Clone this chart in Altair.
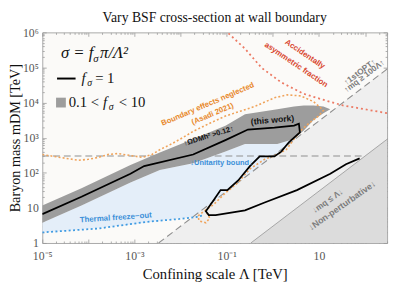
import altair as alt
import pandas as pd

# ---------------- texts ----------------
title_text = "Vary BSF cross-section at wall boundary"
x_title = "Confining scale Λ [TeV]"
y_title = "Baryon mass mDM [TeV]"

# ---------------- axes ----------------
x_domain = [1e-5, 300]
y_domain = [1, 1e6]
x_label_values = [1e-5, 1e-3, 1e-1, 10]
y_label_values = [1, 10, 100, 1e3, 1e4, 1e5, 1e6]
x_tick_values = [k * 10.0 ** e for e in range(-5, 3) for k in range(1, 10) if k * 10.0 ** e <= 300]
y_tick_values = [k * 10.0 ** e for e in range(0, 6) for k in range(1, 10)] + [1e6]

# ---------------- data ----------------
# f_sigma = 1 contour (black)
f1_lam = [1e-5, 7.08e-5, 8.17e-4, 1.62e-3, 1.87e-2, 9.37e-2, 0.288, 1.08, 2.88, 3.67, 3.86,
          2.25, 1.52, 1.08, 0.519, 0.318, 0.177, 0.103, 7.35e-2, 4.97e-2, 3.52e-2, 4.08e-2,
          5.75e-2, 0.249, 0.664, 3.33, 17.6, 38.5, 76.2]
f1_m = [6.63, 20.7, 94.0, 155, 332, 855, 1710, 1940, 2200, 2500, 1420,
        753, 401, 292, 292, 155, 60.4, 32.1, 32.1, 15.1, 8.02, 6.23,
        6.23, 8.54, 14.2, 32.1, 94.0, 176, 258]

# 0.1 < f_sigma < 10 band (gray)
band_lam = [1e-5, 7.08e-5, 8.17e-4, 3.54e-3, 1.87e-2, 9.37e-2, 0.249, 1.25, 2.88, 4.69, 7.65, 12.5, 17.6]
band_hi = [11.7, 36.5, 166, 376, 910, 2200, 4690, 6430, 7770, 8280, 8280, 7770, 6430]
band_lo = [3.76, 11.7, 53.2, 121, 188, 401, 664, 664, 910, 1600, 3210, 5000, 6430]

# light-blue allowed region
blue_lam = [1e-5, 7.08e-5, 8.17e-4, 3.54e-3, 1.87e-2, 9.37e-2, 0.249, 1.25, 2.88]
blue_hi = [3.76, 11.7, 53.2, 121, 188, 401, 664, 664, 910]
blue_lo = [2.0, 2.42, 3.32, 4.27, 5.49, 7.07, 8.02, 8.02, 8.02]

# thermal freeze-out (blue dotted)
freeze_lam = [1e-5, 1.63e-4, 1.87e-3, 9.42e-3, 2.16e-2, 3.20e-2]
freeze_m = [2.0, 2.58, 4.01, 4.84, 5.49, 6.23]

# accidentally asymmetric fraction (red dotted)
asym_lam = [0.109, 0.249, 0.573, 1.52, 4.69, 14.5, 33.2, 76.2, 300]
asym_m = [9.4e5, 3.42e5, 9.7e4, 3.76e4, 1.77e4, 1.13e4, 8280, 6850, 5000]

# boundary effects neglected, Asadi 2021 (orange dotted)
asadi_lam = [1e-5, 1.80e-5, 3.24e-5, 6.11e-5, 9.96e-5, 1.63e-4, 2.65e-4, 4.32e-4, 8.17e-4, 1.47e-3,
             2.39e-3, 3.54e-3, 6.37e-3, 1.15e-2, 1.87e-2, 4.50e-2, 9.37e-2, 0.195, 0.407, 1.08,
             2.04, 4.05, 7.65, 12.5, 9.77, 6.61, 4.26, 2.88, 1.95, 1.25, 0.664, 0.318, 0.177,
             9.37e-2, 5.21e-2, 3.20e-2, 2.38e-2, 2.51e-2, 3.52e-2, 4.29e-2, 3.70e-2]
asadi_m = [332, 292, 258, 227, 242, 274, 332, 353, 311, 274,
           332, 455, 664, 1030, 1510, 2660, 4130, 5670, 7770, 13700,
           16600, 15500, 10600, 6040, 4130, 2830, 1710, 910, 455, 332, 242, 129, 53.2,
           26.6, 12.5, 8.02, 5.85, 4.27, 3.76, 5.16, 7.07]

# unitarity bound (gray dashed, horizontal)
unit_lam = [1e-5, 100]
unit_m = [300, 300]

# m_q = 100 Lambda  (m_DM = 300 Lambda) boundary
opt_lam = [3.33e-3, 300]
opt_m = [1, 9e4]

# m_q = Lambda (m_DM = 3 Lambda) boundary
np_lam = [0.333, 300]
np_m = [1, 900]

# region labels: text, Lambda, m, angle, colour, size
lab_text = ["Accidentally", "asymmetric fraction", "Boundary effects neglected", "(Asadi 2021)",
            "↓Unitarity bound↓", "Thermal freeze−out", "↑1stOPT↑", "↑mq ≥ 100Λ↑",
            "↓mq ≤ Λ↓", "↓Non-perturbative↓", "(this work)", "↑ΩDMh² >0.12↑"]
lab_lam = [4.92, 3.17, 0.0389, 0.0497, 0.0771, 3.92e-4, 76.2, 97.3, 15.2, 31.6, 0.98, 0.0408]
lab_m = [2.34e5, 1.17e5, 8810, 4690, 188, 5.16, 7.53e4, 5.49e4, 16.0, 11.7, 3210, 1100]
lab_angle = [34, 34, 337, 337, 0, 356, 323, 323, 325, 325, 355, 343]
lab_color = ["#d9472f", "#d9472f", "#e8892c", "#e8892c", "#3b8fd8", "#3b8fd8",
             "#7c7c7c", "#7c7c7c", "#7c7c7c", "#7c7c7c", "#111111", "#111111"]
lab_size = [8, 8, 7.8, 7.8, 7.6, 8, 8.5, 8.3, 8.5, 9, 8.8, 7.5]

# legend (in-plot) pieces
leg_it_text = ["σ = f", "σ", "π/Λ²", "f", "σ", "f", "σ"]
leg_it_lam = [2.54e-5, 1.27e-4, 1.79e-4, 7.08e-5, 9.48e-5, 2.07e-4, 2.78e-4]
leg_it_m = [1.82e5, 1.42e5, 1.82e5, 3.53e4, 2.92e4, 7290, 6040]
leg_it_size = [17, 11, 17, 15, 10, 15, 10]
leg_rm_text = ["= 1", "0.1 <", "< 10"]
leg_rm_lam = [1.40e-4, 3.74e-5, 4.54e-4]
leg_rm_m = [3.53e4, 7290, 7290]
leg_line_lam = [2.09e-5, 5.27e-5]
leg_line_m = [4.84e4, 4.84e4]
leg_sq_lam = [2.54e-5]
leg_sq_m = [1.0e4]

# ---------------- helpers ----------------
W, H = 352, 215
xs = alt.Scale(type="log", domain=x_domain)
ys = alt.Scale(type="log", domain=y_domain)


def path_df(lams, ms):
    return pd.DataFrame({"lam": lams, "m": ms, "i": list(range(len(lams)))})


MAJOR = "abs(log(datum.value)/LN10 - round(log(datum.value)/LN10)) < 0.01"
tick_size = {"condition": {"test": MAJOR, "value": 4}, "value": 2}


def tick_axis(orient, offset, values):
    return alt.Axis(orient=orient, offset=offset, values=values, labels=False, domain=False,
                    grid=False, ticks=True, tickSize=tick_size, tickColor="#999999",
                    tickWidth=0.8, title=None)


x_label_axis = alt.Axis(
    orient="bottom", values=x_label_values,
    labelExpr="datum.value < 2e-5 ? '10⁻⁵' : datum.value < 2e-3 ? '10⁻³' : datum.value < 0.2 ? '10⁻¹' : '10'",
    ticks=False, domain=False, grid=False, labelFlush=False,
    labelFont="Liberation Serif", labelFontSize=12, labelColor="#555555", labelPadding=8,
    title=x_title, titleFont="Liberation Serif", titleFontSize=15, titleFontWeight="normal",
    titleColor="#111111", titlePadding=5)
y_label_axis = alt.Axis(
    orient="left", values=y_label_values,
    labelExpr="datum.value < 2 ? '1' : datum.value < 20 ? '10' : datum.value < 200 ? '10²' : datum.value < 2e3 ? '10³' : datum.value < 2e4 ? '10⁴' : datum.value < 2e5 ? '10⁵' : '10⁶'",
    ticks=False, domain=False, grid=False, labelFlush=False,
    labelFont="Liberation Serif", labelFontSize=12, labelColor="#555555", labelPadding=4,
    title=y_title, titleFont="Liberation Serif", titleFontSize=14.5, titleFontWeight="normal",
    titleColor="#111111", titlePadding=0)


def X(axis=None):
    return alt.X("lam:Q", scale=xs, axis=axis)


def Y(axis=None):
    return alt.Y("m:Q", scale=ys, axis=axis)


# ---------------- layers ----------------
blue = alt.Chart(pd.DataFrame({"lam": blue_lam, "m": blue_hi, "m2": blue_lo})).mark_area(
    color="#e4eef9", clip=True).encode(x=X(x_label_axis), y=Y(y_label_axis), y2="m2:Q")

opt_area = alt.Chart(pd.DataFrame({"lam": opt_lam, "m": opt_m, "m2": [1, 1]})).mark_area(
    color="#efefef", clip=True).encode(
    x=X(tick_axis("top", -H, x_tick_values)), y=Y(tick_axis("right", -W, y_tick_values)), y2="m2:Q")

np_area = alt.Chart(pd.DataFrame({"lam": np_lam, "m": np_m, "m2": [1, 1]})).mark_area(
    color="#dcdcdc", clip=True).encode(
    x=X(tick_axis("bottom", -H, x_tick_values)), y=Y(tick_axis("left", -W, y_tick_values)), y2="m2:Q")

unit_line = alt.Chart(path_df(unit_lam, unit_m)).mark_line(
    color="#8f8f8f", strokeWidth=1.1, strokeDash=[7, 4], clip=True).encode(x=X(), y=Y(), order="i:Q")
opt_line = alt.Chart(path_df(opt_lam, opt_m)).mark_line(
    color="#8f8f8f", strokeWidth=1.1, strokeDash=[7, 4], clip=True).encode(x=X(), y=Y(), order="i:Q")
np_line = alt.Chart(path_df(np_lam, np_m)).mark_line(
    color="#a5a5a5", strokeWidth=1, clip=True).encode(x=X(), y=Y(), order="i:Q")

band = alt.Chart(pd.DataFrame({"lam": band_lam, "m": band_hi, "m2": band_lo})).mark_area(
    color="#9d9d9d", clip=True).encode(x=X(), y=Y(), y2="m2:Q")

asadi = alt.Chart(path_df(asadi_lam, asadi_m)).mark_line(
    color="#f0a35a", strokeWidth=1.6, strokeDash=[2, 2.2], clip=True).encode(x=X(), y=Y(), order="i:Q")
asym = alt.Chart(path_df(asym_lam, asym_m)).mark_line(
    color="#ec7a64", strokeWidth=1.8, strokeDash=[2, 3], clip=True).encode(x=X(), y=Y(), order="i:Q")
freeze = alt.Chart(path_df(freeze_lam, freeze_m)).mark_line(
    color="#3f9be2", strokeWidth=1.8, strokeDash=[2, 2.5], clip=True).encode(x=X(), y=Y(), order="i:Q")
f1 = alt.Chart(path_df(f1_lam, f1_m)).mark_line(
    color="black", strokeWidth=1.8, clip=True).encode(x=X(), y=Y(), order="i:Q")

labels_df = pd.DataFrame({"lam": lab_lam, "m": lab_m, "text": lab_text, "angle": lab_angle,
                          "color": lab_color, "size": lab_size})
labels = alt.Chart(labels_df).mark_text(
    font="Liberation Sans", fontWeight="bold", align="center", baseline="middle").encode(
    x=X(), y=Y(), text="text:N", angle=alt.Angle("angle:Q", scale=None),
    color=alt.Color("color:N", scale=None), size=alt.Size("size:Q", scale=None))

leg_it = alt.Chart(pd.DataFrame({"lam": leg_it_lam, "m": leg_it_m, "text": leg_it_text,
                                 "size": leg_it_size})).mark_text(
    font="Liberation Serif", fontStyle="italic", align="left", baseline="alphabetic",
    color="#111111").encode(x=X(), y=Y(), text="text:N", size=alt.Size("size:Q", scale=None))
leg_rm = alt.Chart(pd.DataFrame({"lam": leg_rm_lam, "m": leg_rm_m, "text": leg_rm_text})).mark_text(
    font="Liberation Serif", fontSize=15, align="left", baseline="alphabetic",
    color="#111111").encode(x=X(), y=Y(), text="text:N")
leg_line = alt.Chart(path_df(leg_line_lam, leg_line_m)).mark_line(
    color="black", strokeWidth=2).encode(x=X(), y=Y(), order="i:Q")
leg_sq = alt.Chart(pd.DataFrame({"lam": leg_sq_lam, "m": leg_sq_m})).mark_square(
    color="#9d9d9d", size=100, opacity=1).encode(x=X(), y=Y())

chart = alt.layer(
    blue, opt_area, np_area, unit_line, opt_line, np_line, band,
    asadi, asym, freeze, f1, labels, leg_it, leg_rm, leg_line, leg_sq
).resolve_axis(x="independent", y="independent").properties(
    width=W, height=H,
    title=alt.TitleParams(title_text, font="Liberation Serif", fontSize=14, frame="group",
                          fontWeight="normal", anchor="middle", offset=2, color="#111111"),
    autosize=alt.AutoSizeParams(type="none"),
    padding={"left": 35, "top": 22, "right": 4, "bottom": 40},
).configure_view(stroke="#a8a8a8", strokeWidth=1, fill="#fbfaf8")

chart.save("out.html", embed_options={"renderer": "svg", "actions": False})
